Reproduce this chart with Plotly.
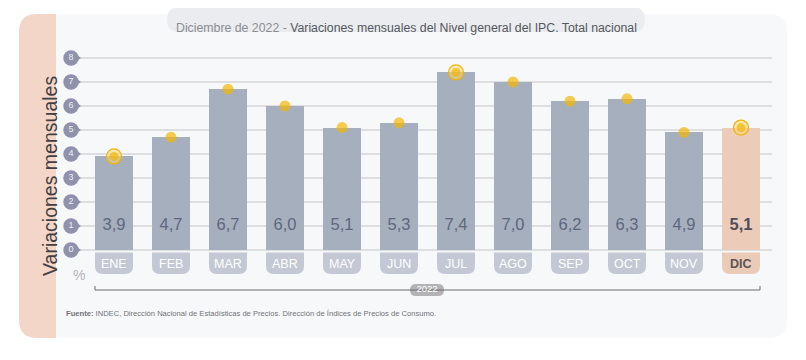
import plotly.graph_objects as go

# ---------------- data ----------------
months = ["ENE", "FEB", "MAR", "ABR", "MAY", "JUN", "JUL", "AGO", "SEP", "OCT", "NOV", "DIC"]
values = [3.9, 4.7, 6.7, 6.0, 5.1, 5.3, 7.4, 7.0, 6.2, 6.3, 4.9, 5.1]
highlighted = ["ENE", "JUL", "DIC"]
current_month = "DIC"
y_ticks = [0, 1, 2, 3, 4, 5, 6, 7, 8]
year_label = "2022"
title_light = "Diciembre de 2022 - "
title_dark = "Variaciones mensuales del Nivel general del IPC. Total nacional"
y_title = "Variaciones mensuales"
source_bold = "Fuente:"
source_text = " INDEC, Dirección Nacional de Estadísticas de Precios. Dirección de Índices de Precios de Consumo."

# ---------------- layout helpers ----------------
OFF = 8                      # page body margin
W, H = 806 - 2 * OFF, 360 - 2 * OFF
X0_PX, X_STEP = 114, 57      # pixel centre of first bar, pixel step between bars
Y0_PX, Y_STEP = 250, 24      # pixel of value 0, pixels per unit

def xd(px):
    return (px - X0_PX) / X_STEP

def yd(py):
    return (Y0_PX - py) / Y_STEP

def pxp(px):
    return (px - OFF) / W

def pyp(py):
    return 1 - (py - OFF) / H

FONT = "Liberation Sans, Arial, Helvetica, sans-serif"
idx = list(range(len(months)))
BAR_W_PX = 38

bar_colors = ["#ecccb8" if m == current_month else "#a5afbd" for m in months]
pill_colors = ["#e9cbb7" if m == current_month else "#c3c8d4" for m in months]

shapes = []

def round_rect_paper(x0, y0, x1, y1, rl, rr, color, layer="below"):
    P = lambda x, y: f"{pxp(x):.6f},{pyp(y):.6f}"
    path = (f"M {P(x0 + rl, y0)} L {P(x1 - rr, y0)} Q {P(x1, y0)} {P(x1, y0 + rr)} "
            f"L {P(x1, y1 - rr)} Q {P(x1, y1)} {P(x1 - rr, y1)} "
            f"L {P(x0 + rl, y1)} Q {P(x0, y1)} {P(x0, y1 - rl)} "
            f"L {P(x0, y0 + rl)} Q {P(x0, y0)} {P(x0 + rl, y0)} Z")
    return dict(type="path", xref="paper", yref="paper", path=path,
                fillcolor=color, line=dict(width=0), layer=layer)

# panel backgrounds
shapes.append(round_rect_paper(55, 14, 787, 338, 0, 18, "#f7f8fa"))
shapes.append(round_rect_paper(19, 14, 56, 338, 18, 0, "#f3d6c8"))
# title pill
shapes.append(round_rect_paper(167, 7, 645, 32, 12.5, 12.5, "#eaecf0"))

# gridlines
for t in y_ticks:
    shapes.append(dict(type="line", xref="paper", yref="y",
                       x0=pxp(78), x1=pxp(772), y0=t, y1=t,
                       line=dict(color="#c4c4c6", width=1), layer="below"))

# month pills (rounded bottom corners)
half = BAR_W_PX / 2 / X_STEP
rx = 8 / X_STEP
ry = 8 / Y_STEP
ptop, pbot = yd(252.5), yd(274)
for i, c in zip(idx, pill_colors):
    xl, xr = i - half, i + half
    path = (f"M {xl},{ptop} L {xr},{ptop} L {xr},{pbot + ry} Q {xr},{pbot} {xr - rx},{pbot} "
            f"L {xl + rx},{pbot} Q {xl},{pbot} {xl},{pbot + ry} Z")
    shapes.append(dict(type="path", xref="x", yref="y", path=path,
                       fillcolor=c, line=dict(width=0), layer="below"))

# year bracket
by = yd(290)
shapes.append(dict(type="line", xref="x", yref="y", x0=xd(95), x1=xd(760), y0=by, y1=by,
                   line=dict(color="#6a6a6a", width=1), layer="below"))
for ex in (95, 760):
    shapes.append(dict(type="line", xref="x", yref="y", x0=xd(ex), x1=xd(ex), y0=by, y1=yd(286),
                       line=dict(color="#6a6a6a", width=1), layer="below"))
# year pill
shapes.append(round_rect_paper(410, 284, 444, 296, 6, 6, "#b3b3b5", layer="below"))

fig = go.Figure()

# bars
fig.add_trace(go.Bar(x=idx, y=values, width=BAR_W_PX / X_STEP,
                     marker=dict(color=bar_colors, line=dict(width=0)),
                     hoverinfo="skip", showlegend=False))

# value labels inside bars (at level 1)
labels = []
for m, v in zip(months, values):
    s = f"{v:.1f}".replace(".", ",")
    labels.append(f"<b>{s}</b>" if m == current_month else s)
label_colors = ["#4d4f5c" if m == current_month else "#5e6781" for m in months]
fig.add_trace(go.Scatter(x=idx, y=[1] * len(idx), mode="text", text=labels,
                         textfont=dict(size=16.5, color=label_colors, family=FONT),
                         hoverinfo="skip", showlegend=False))

# ring around highlighted dots
hi_x = [i for i, m in zip(idx, months) if m in highlighted]
hi_y = [v for v, m in zip(values, months) if m in highlighted]
fig.add_trace(go.Scatter(x=hi_x, y=hi_y, mode="markers",
                         marker=dict(size=15, color="rgba(250,215,120,0.55)",
                                     line=dict(color="#f0b40a", width=1.3)),
                         hoverinfo="skip", showlegend=False))
dot_sizes = [9 if m in highlighted else 11 for m in months]
fig.add_trace(go.Scatter(x=idx, y=values, mode="markers",
                         marker=dict(size=dot_sizes, color="#f2b705", line=dict(width=0)),
                         hoverinfo="skip", showlegend=False))

# y tick bubbles
fig.add_trace(go.Scatter(x=[xd(76)] * len(y_ticks), y=y_ticks, mode="markers",
                         marker=dict(symbol="triangle-right", size=10, color="#8f92aa", line=dict(width=0)),
                         hoverinfo="skip", showlegend=False))
fig.add_trace(go.Scatter(x=[xd(71)] * len(y_ticks), y=y_ticks, mode="markers+text",
                         text=[str(t) for t in y_ticks], textposition="middle center",
                         textfont=dict(size=9, color="#eef0f6", family=FONT),
                         marker=dict(symbol="circle", size=15.5, color="#8f92aa", line=dict(width=0)),
                         hoverinfo="skip", showlegend=False))

# year label on its pill
fig.add_trace(go.Scatter(x=[xd(427)], y=[yd(290)], mode="text", text=[year_label],
                         textposition="middle center",
                         textfont=dict(size=9.5, color="#ffffff", family=FONT),
                         hoverinfo="skip", showlegend=False, cliponaxis=False))

annotations = []
for i, m in zip(idx, months):
    if m == current_month:
        txt, col = f"<b>{m}</b>", "#5b5355"
    else:
        txt, col = m, "#ffffff"
    annotations.append(dict(x=i, y=yd(263.5), xref="x", yref="y", text=txt, showarrow=False,
                            font=dict(size=12.5, color=col, family=FONT)))

annotations.append(dict(x=pxp(406), y=pyp(19.5), xref="paper", yref="paper", showarrow=False,
                        text=f"<span style='color:#8c8c90'>{title_light}</span>"
                             f"<span style='color:#55575e'>{title_dark}</span>",
                        font=dict(size=12.3, family=FONT)))
annotations.append(dict(x=pxp(37), y=pyp(176), xref="paper", yref="paper", showarrow=False,
                        text=y_title, textangle=-90, font=dict(size=19.5, color="#3f3f44", family=FONT)))
annotations.append(dict(x=pxp(71), y=pyp(285), xref="paper", yref="paper", showarrow=False,
                        text="%", font=dict(size=14, color="#b4b4b8", family=FONT)))
annotations.append(dict(x=pxp(64), y=pyp(320), xref="paper", yref="paper", showarrow=False,
                        xanchor="left", text=f"<b>{source_bold}</b>{source_text}",
                        font=dict(size=7.6, color="#727278", family=FONT)))

fig.update_layout(
    width=W, height=H,
    margin=dict(l=0, r=0, t=0, b=0, autoexpand=False),
    paper_bgcolor="#ffffff", plot_bgcolor="rgba(0,0,0,0)",
    xaxis=dict(range=[xd(OFF), xd(OFF + W)], visible=False, fixedrange=True),
    yaxis=dict(range=[yd(OFF + H), yd(OFF)], visible=False, fixedrange=True),
    shapes=shapes, annotations=annotations,
    bargap=0, showlegend=False,
    font=dict(family=FONT),
)

fig.write_html("out.html")
